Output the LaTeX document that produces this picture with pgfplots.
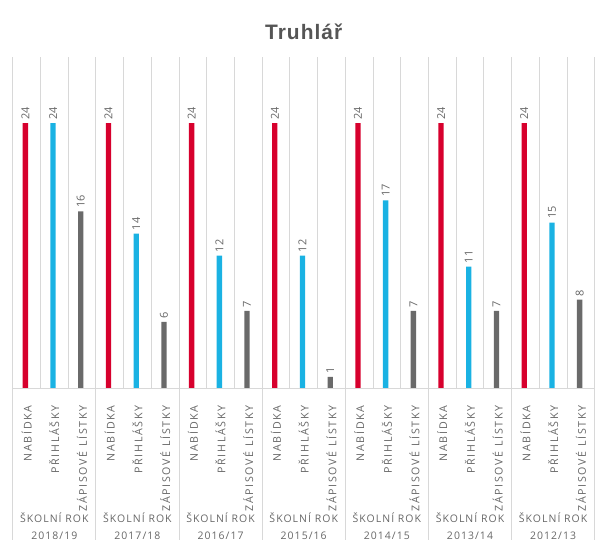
\documentclass[border=0pt]{standalone}
\usepackage{fontspec}
\setmainfont{Open Sans}
\newfontfamily\titlefont[LetterSpace=5]{Liberation Sans}
\newfontfamily\spaced[LetterSpace=16]{Open Sans}
\newfontfamily\spacedg[LetterSpace=10]{Open Sans}
\usepackage{pgfplots}
\pgfplotsset{compat=1.18}
\definecolor{cred}{HTML}{D7002D}
\definecolor{cblue}{HTML}{1AB2E3}
\definecolor{cgray}{HTML}{6A6A6A}
\definecolor{ctext}{HTML}{666666}
\definecolor{ctitle}{HTML}{555555}
\definecolor{cgrid}{HTML}{D8D8D8}
\newcommand{\zl}{ZÁPISOVÉ LÍSTKY}
\begin{document}
\begin{tikzpicture}
\useasboundingbox (-12.7bp,-165bp) rectangle (592.3bp,388bp);
\begin{axis}[
  at={(0,0)}, anchor=south west,
  scale only axis, width=582bp, height=331bp,
  xmin=-0.5, xmax=20.5, ymin=0, ymax=30,
  clip=false,
  axis line style={draw=none},
  ytick=\empty,
  xtick={0,...,20},
  xticklabels={NABÍDKA,PŘIHLÁŠKY,\zl,NABÍDKA,PŘIHLÁŠKY,\zl,NABÍDKA,PŘIHLÁŠKY,\zl,NABÍDKA,PŘIHLÁŠKY,\zl,NABÍDKA,PŘIHLÁŠKY,\zl,NABÍDKA,PŘIHLÁŠKY,\zl,NABÍDKA,PŘIHLÁŠKY,\zl},
  xticklabel style={rotate=90, anchor=east, font=\spaced\fontsize{10.7}{11}\selectfont, text=ctext},
  xticklabel shift=14bp,
  major tick length=0pt, minor tick length=0pt,
  minor xtick={-0.5,0.5,...,20.5},
  xminorgrids=true,
  minor grid style={cgrid, line width=0.8pt},
  ybar, bar width=5.3bp,
  nodes near coords,
  /pgf/number format/assume math mode=true,
  every node near coord/.append style={rotate=90, anchor=west, font=\fontsize{11}{12}\selectfont, text=ctext},
]
\addplot[fill=cred, draw=none, bar shift=-1.2bp] coordinates {(0,24) (3,24) (6,24) (9,24) (12,24) (15,24) (18,24)};
\addplot[fill=cblue, draw=none, bar shift=-1.2bp] coordinates {(1,24) (4,14) (7,12) (10,12) (13,17) (16,11) (19,15)};
\addplot[fill=cgray, draw=none, bar shift=-1.2bp] coordinates {(2,16) (5,6) (8,7) (11,1) (14,7) (17,7) (20,8)};
\draw[cgrid, line width=0.8pt] (axis cs:-0.5,0) -- (axis cs:20.5,0);
\pgfplotsinvokeforeach{-0.5,2.5,5.5,8.5,11.5,14.5,17.5,20.5}{
  \draw[cgrid, line width=0.8pt] (axis cs:#1,0) -- ([yshift=-152bp]axis cs:#1,0);
}
\tikzset{grp/.style={align=center, font=\spacedg\fontsize{10.5}{17}\selectfont, text=ctext, yshift=-138bp}}
\node[grp] at (axis cs:1,0) {ŠKOLNÍ ROK\\2018/19};
\node[grp] at (axis cs:4,0) {ŠKOLNÍ ROK\\2017/18};
\node[grp] at (axis cs:7,0) {ŠKOLNÍ ROK\\2016/17};
\node[grp] at (axis cs:10,0) {ŠKOLNÍ ROK\\2015/16};
\node[grp] at (axis cs:13,0) {ŠKOLNÍ ROK\\2014/15};
\node[grp] at (axis cs:16,0) {ŠKOLNÍ ROK\\2013/14};
\node[grp] at (axis cs:19,0) {ŠKOLNÍ ROK\\2012/13};
\node[font=\titlefont\bfseries\fontsize{21}{24}\selectfont, text=ctitle] at (axis cs:10,0) [yshift=356bp] {Truhlář};
\end{axis}
\end{tikzpicture}
\end{document}
